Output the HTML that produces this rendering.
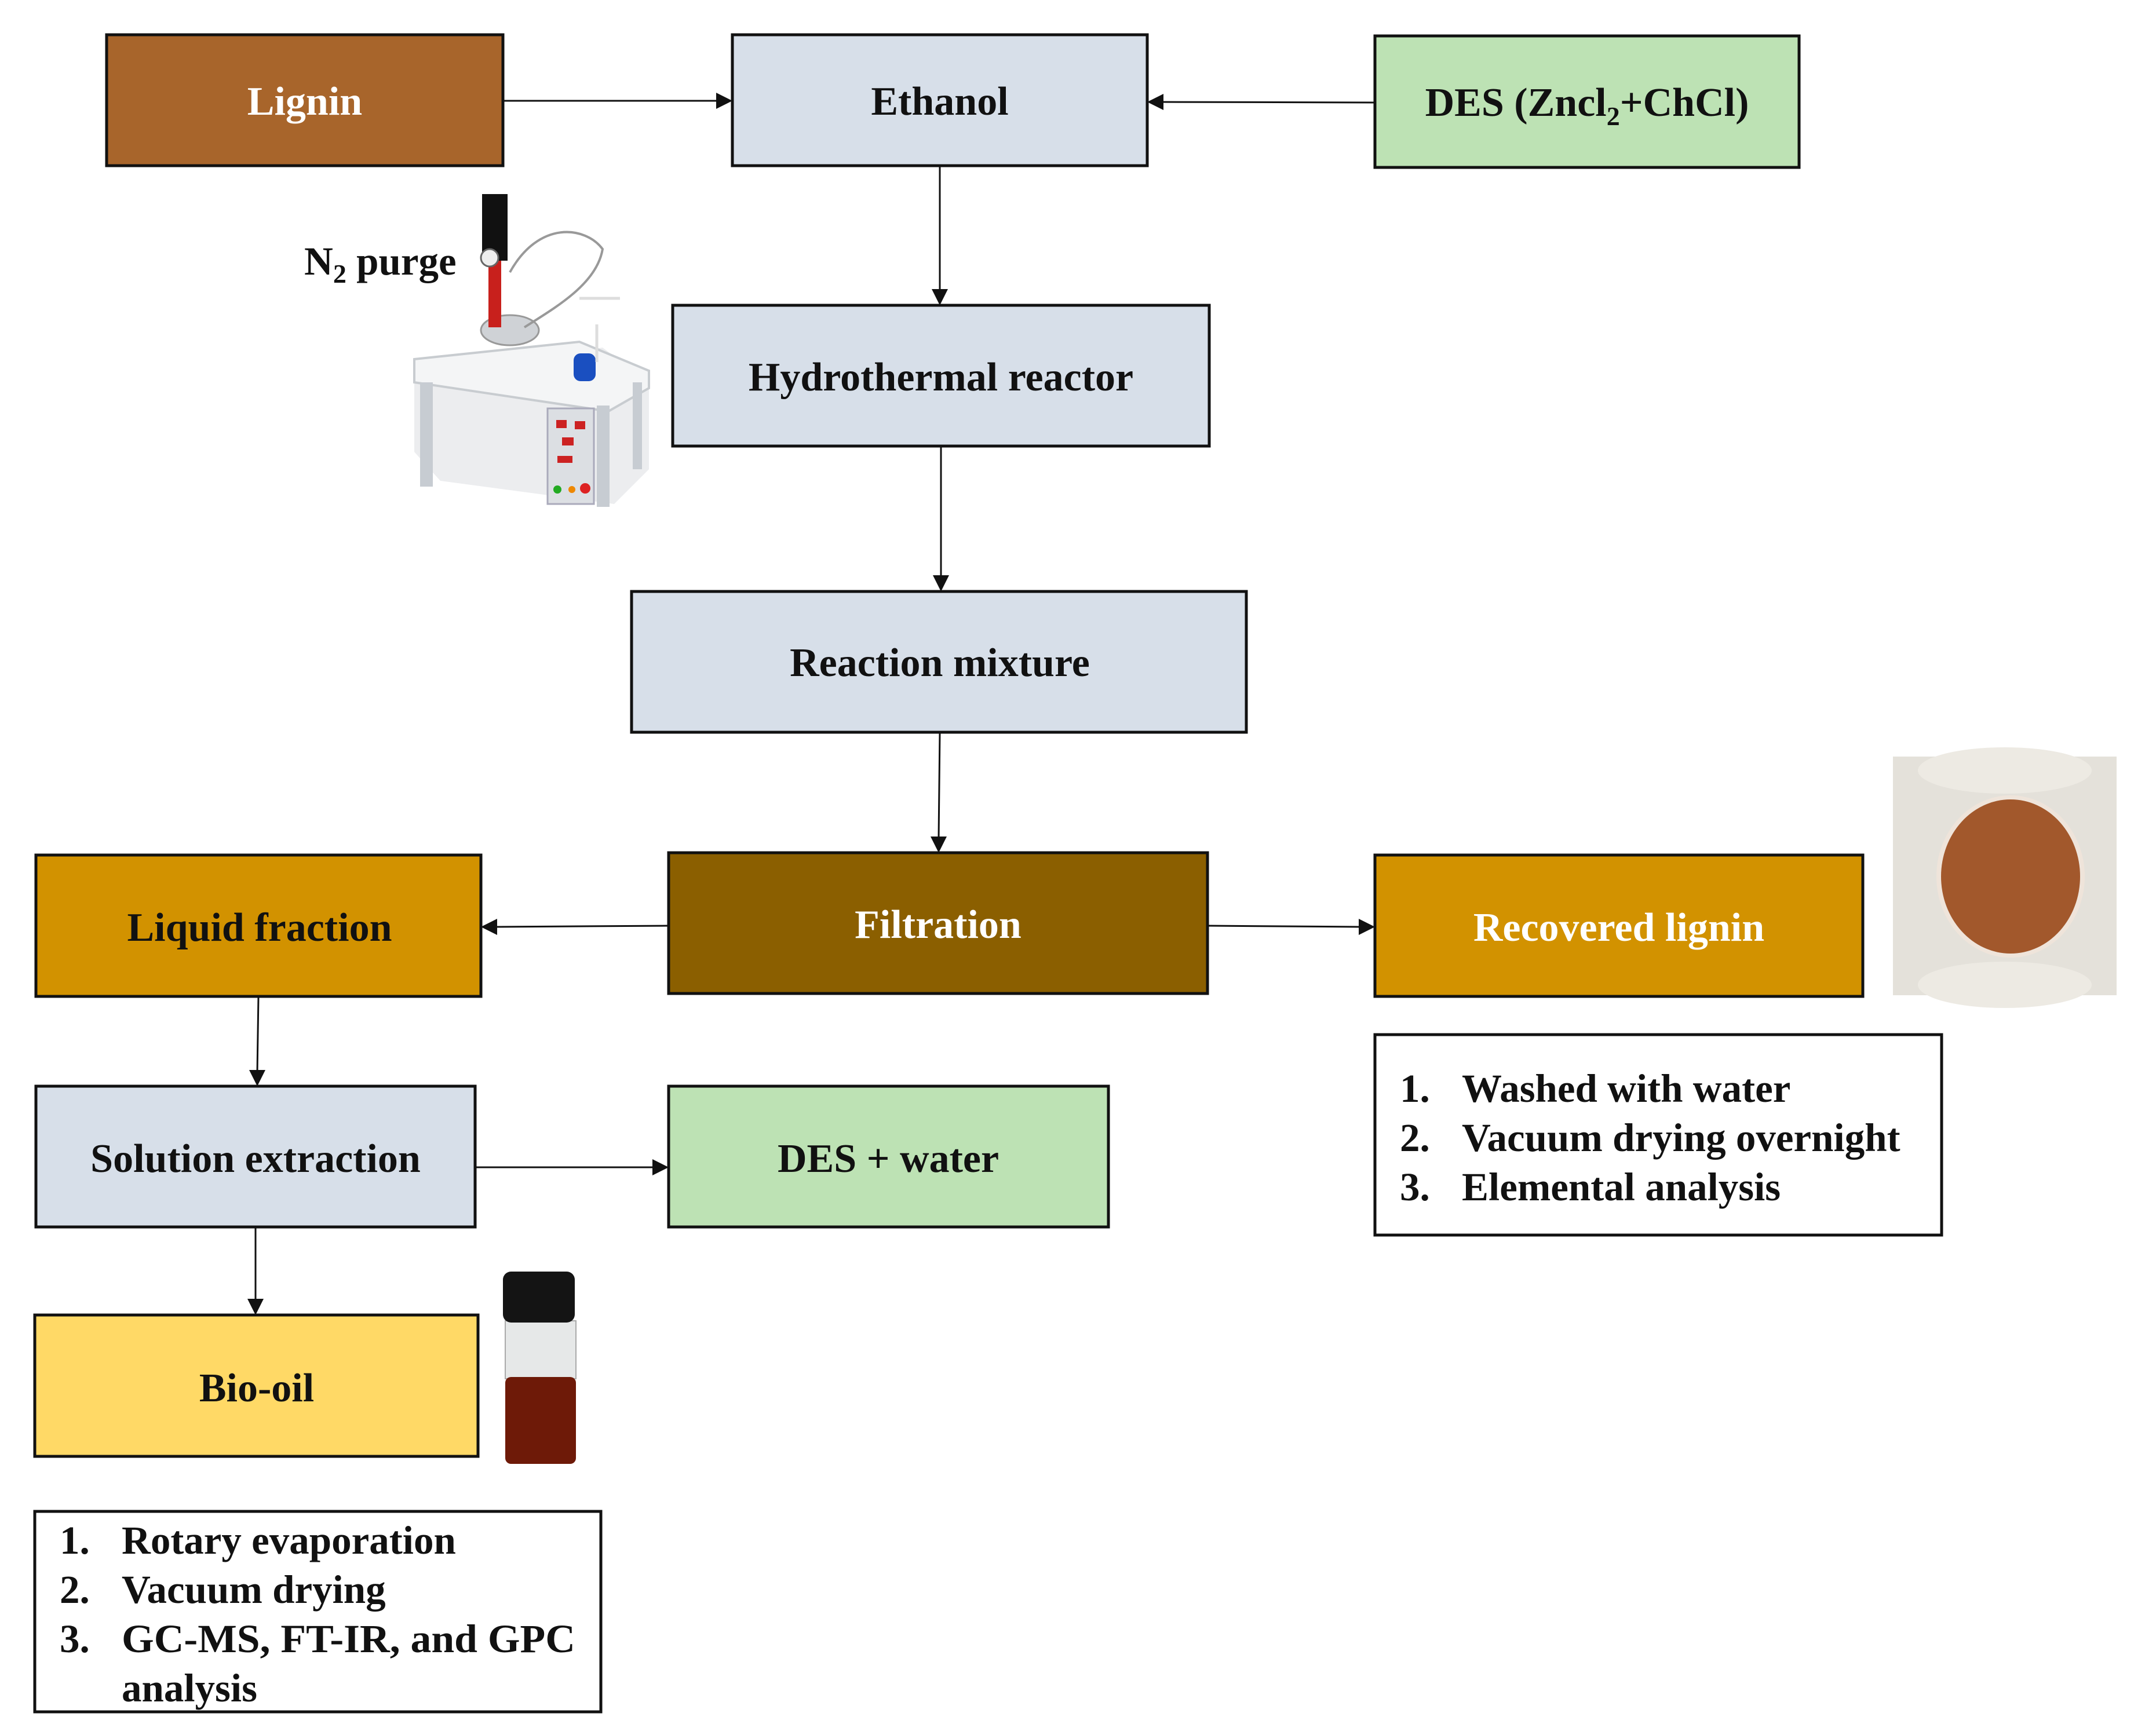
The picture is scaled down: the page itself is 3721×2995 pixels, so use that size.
<!DOCTYPE html>
<html><head><meta charset="utf-8"><style>
html,body{margin:0;padding:0;background:#fff;}
svg{display:block;}
text{font-family:"Liberation Serif",serif;font-weight:bold;}
</style></head><body>
<svg width="3721" height="2995" viewBox="0 0 3721 2995" xmlns="http://www.w3.org/2000/svg">
<rect width="3721" height="2995" fill="#fff"/>
<g stroke="#111" stroke-width="5">
<rect x="184" y="60" width="684" height="226" fill="#A8652B"/>
<rect x="1264" y="60" width="716" height="226" fill="#D7DFE9"/>
<rect x="2373" y="62" width="732" height="227" fill="#BDE2B4"/>
<rect x="1161" y="527" width="926" height="243" fill="#D7DFE9"/>
<rect x="1090" y="1021" width="1061" height="243" fill="#D7DFE9"/>
<rect x="1154" y="1472" width="930" height="243" fill="#8B5F00"/>
<rect x="62" y="1476" width="768" height="244" fill="#D29200"/>
<rect x="2373" y="1476" width="842" height="244" fill="#D29200"/>
<rect x="2373" y="1786" width="978" height="346" fill="#fff"/>
<rect x="62" y="1875" width="758" height="243" fill="#D7DFE9"/>
<rect x="1154" y="1875" width="759" height="243" fill="#BDE2B4"/>
<rect x="60" y="2270" width="765" height="244" fill="#FFD966"/>
<rect x="60" y="2609" width="977" height="346" fill="#fff"/>
</g>
<g stroke="#111" stroke-width="3" fill="none">
<line x1="868" y1="174" x2="1240" y2="174"/>
<line x1="2373" y1="177" x2="2005" y2="176"/>
<line x1="1622" y1="286" x2="1622" y2="503"/>
<line x1="1624" y1="770" x2="1624" y2="997"/>
<line x1="1622" y1="1264" x2="1620" y2="1448"/>
<line x1="1154" y1="1598" x2="855" y2="1600"/>
<line x1="2084" y1="1598" x2="2349" y2="1600"/>
<line x1="446" y1="1720" x2="444" y2="1851"/>
<line x1="820" y1="2015" x2="1130" y2="2015"/>
<line x1="441" y1="2118" x2="441" y2="2246"/>
</g>
<g fill="#111">
<polygon points="1264,174 1236,160 1236,188"/>
<polygon points="1980,176 2008,162 2008,190"/>
<polygon points="1622,527 1608,499 1636,499"/>
<polygon points="1624,1021 1610,993 1638,993"/>
<polygon points="1620,1472 1606,1444 1634,1444"/>
<polygon points="830,1600 858,1586 858,1614"/>
<polygon points="2373,1600 2345,1586 2345,1614"/>
<polygon points="444,1875 430,1847 458,1847"/>
<polygon points="1154,2015 1126,2001 1126,2029"/>
<polygon points="441,2270 427,2242 455,2242"/>
</g>
<g font-size="70" text-anchor="middle">
<text x="526" y="198" fill="#fff">Lignin</text>
<text x="1622" y="198" fill="#111">Ethanol</text>
<text x="2739" y="200" fill="#111">DES (Zncl<tspan font-size="46" dy="16">2</tspan><tspan dy="-16">+ChCl)</tspan></text>
<text x="1624" y="674" fill="#111">Hydrothermal reactor</text>
<text x="1622" y="1167" fill="#111">Reaction mixture</text>
<text x="1619" y="1619" fill="#fff">Filtration</text>
<text x="448" y="1624" fill="#111">Liquid fraction</text>
<text x="2794" y="1624" fill="#fff">Recovered lignin</text>
<text x="441" y="2023" fill="#111">Solution extraction</text>
<text x="1533" y="2023" fill="#111">DES + water</text>
<text x="443" y="2419" fill="#111">Bio-oil</text>
</g>
<g font-size="69" fill="#111">
<text x="2416" y="1902">1.</text><text x="2523" y="1902">Washed with water</text>
<text x="2416" y="1987">2.</text><text x="2523" y="1987">Vacuum drying overnight</text>
<text x="2416" y="2072">3.</text><text x="2523" y="2072">Elemental analysis</text>
<text x="103" y="2682">1.</text><text x="210" y="2682">Rotary evaporation</text>
<text x="103" y="2767">2.</text><text x="210" y="2767">Vacuum drying</text>
<text x="103" y="2852">3.</text><text x="210" y="2852" textLength="783" lengthAdjust="spacingAndGlyphs">GC-MS, FT-IR, and GPC</text>
<text x="210" y="2937">analysis</text>
<text x="525" y="474">N<tspan font-size="46" dy="14">2</tspan><tspan dy="-14"> purge</tspan></text>
</g>
<!-- reactor image approximation -->
<g>
<polygon points="715,640 1040,600 1120,660 1120,810 1060,870 760,830 715,780" fill="#ECEDEF"/>
<polygon points="715,620 1000,590 1120,640 1120,670 1050,710 715,660" fill="#F4F5F6" stroke="#c8ccd0" stroke-width="4"/>
<rect x="725" y="660" width="22" height="180" fill="#c7ccd2"/>
<rect x="1030" y="700" width="22" height="175" fill="#c7ccd2"/>
<rect x="1092" y="660" width="16" height="150" fill="#c7ccd2"/>
<rect x="945" y="705" width="80" height="165" fill="#dcdfe3" stroke="#aab" stroke-width="3"/>
<rect x="960" y="725" width="18" height="14" fill="#c22"/><rect x="992" y="727" width="18" height="14" fill="#c22"/>
<rect x="970" y="755" width="20" height="14" fill="#c22"/><rect x="962" y="787" width="26" height="12" fill="#c22"/>
<circle cx="962" cy="845" r="7" fill="#2a2"/><circle cx="987" cy="845" r="6" fill="#e80"/><circle cx="1010" cy="843" r="9" fill="#d22"/>
<ellipse cx="880" cy="570" rx="50" ry="26" fill="#cfd2d6" stroke="#999" stroke-width="3"/>
<rect x="843" y="430" width="22" height="135" fill="#c8201c"/>
<rect x="832" y="335" width="44" height="115" fill="#111"/>
<circle cx="845" cy="445" r="15" fill="#eee" stroke="#666" stroke-width="3"/>
<path d="M880,470 C930,380 1010,390 1040,430 C1030,490 960,530 905,565" fill="none" stroke="#999" stroke-width="4"/>
<rect x="990" y="610" width="38" height="48" rx="12" fill="#1a4fc0"/>
<path d="M1030,560 L1030,625 M1000,515 L1070,515" stroke="#ddd" stroke-width="5"/>
</g>
<!-- powder image -->
<rect x="3267" y="1306" width="386" height="412" fill="#E4E1DA"/>
<ellipse cx="3460" cy="1330" rx="150" ry="40" fill="#EDEAE3"/>
<ellipse cx="3460" cy="1700" rx="150" ry="40" fill="#EDEAE3"/>
<ellipse cx="3470" cy="1513" rx="128" ry="140" fill="#EFE4DA"/>
<ellipse cx="3470" cy="1513" rx="120" ry="133" fill="#A2582C"/>
<!-- vial -->
<rect x="872" y="2280" width="122" height="100" fill="#E6E8E8" stroke="#aaa" stroke-width="2"/>
<rect x="872" y="2377" width="122" height="150" rx="10" fill="#6E1A08"/>
<rect x="868" y="2195" width="124" height="88" rx="14" fill="#141414"/>
</svg>
</body></html>
